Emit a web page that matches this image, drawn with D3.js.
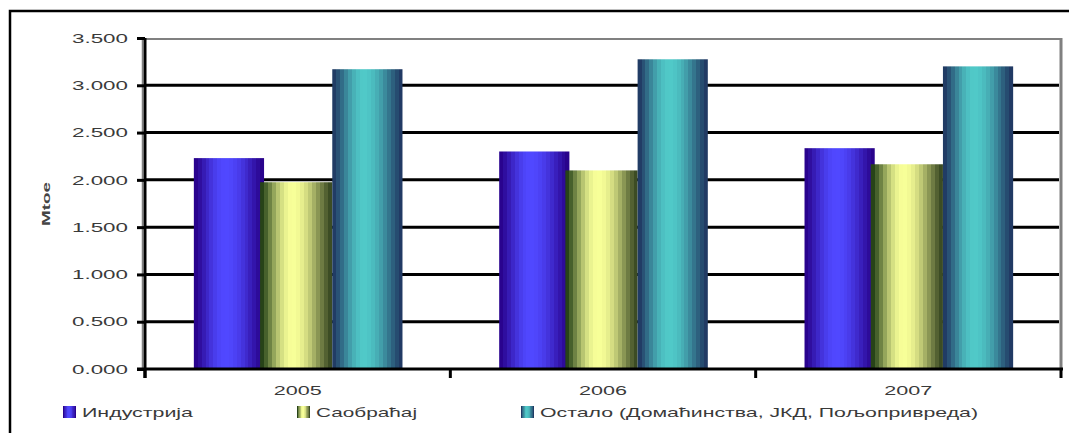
<!DOCTYPE html>
<html>
<head>
<meta charset="utf-8">
<script src="https://cdn.jsdelivr.net/npm/d3@7"></script>
<style>
  body { margin: 0; background: #fff; }
  text { font-family: Arial, 'Liberation Sans', sans-serif; }
</style>
</head>
<body>
<svg width="1069" height="433"></svg>
<script>
const years = ['2005', '2006', '2007'];
const seriesNames = ['Индустрија', 'Саобраћај', 'Остало (Домаћинства, ЈКД, Пољопривреда)'];
const industrija = [2.230, 2.300, 2.335];
const saobracaj = [1.975, 2.100, 2.165];
const ostalo = [3.170, 3.275, 3.200];
const yTicks = [0, 0.5, 1, 1.5, 2, 2.5, 3, 3.5];
const yAxisLabelText = 'Mtoe';

const svg = d3.select('svg');
const width = +svg.attr('width');
const height = +svg.attr('height');

const margin = { top: 38, right: 8, bottom: 64, left: 145 };
const innerWidth = 1061 - margin.left;
const innerHeight = 369 - margin.top;

const series = [industrija, saobracaj, ostalo];
const data = years.map((yr, i) => ({ year: yr, values: series.map((s, k) => ({ key: k, value: s[i] })) }));

// bar shading, dark edges and a bright band a bit left of centre
const shades = [
  { dark: '#270088', light: '#5048ff', dark2: '#270088' },
  { dark: '#1c3a12', light: '#f8ff98', dark2: '#354520' },
  { dark: '#1f3560', light: '#50c9c8', dark2: '#1f3560' }
];
const defs = svg.append('defs');
shades.forEach((s, k) => {
  const grad = defs.append('linearGradient').attr('id', 'g' + k)
    .attr('x1', 0).attr('x2', 1).attr('y1', 0).attr('y2', 0);
  const n = 18;
  for (let i = 0; i < n; i++) {
    const t = (i + 0.5) / n;
    const peak = 0.45;
    const p = t < peak ? Math.sin((t / peak) * Math.PI / 2) : Math.sin(((1 - t) / (1 - peak)) * Math.PI / 2);
    const col = d3.interpolateRgb(t < peak ? s.dark : s.dark2, s.light)(Math.pow(p, 1.3));
    grad.append('stop').attr('offset', i / n).attr('stop-color', col);
    grad.append('stop').attr('offset', (i + 1) / n).attr('stop-color', col);
  }
});

// outer frame
svg.append('rect')
  .attr('x', 10).attr('y', 11).attr('width', 1075).attr('height', 440)
  .attr('fill', 'none').attr('stroke', '#000').attr('stroke-width', 2.5);

const g = svg.append('g')
  .attr('transform', `translate(${margin.left},${margin.top})`);

const xScale = d3.scaleBand()
  .domain(years)
  .range([0, innerWidth])
  .paddingInner(0.32)
  .paddingOuter(0.16);

const x1 = d3.scaleBand()
  .domain([0, 1, 2])
  .range([0, xScale.bandwidth()]);

const yScale = d3.scaleLinear()
  .domain([0, 3.5])
  .range([innerHeight, 0]);

// plot area border (grey)
g.append('line').attr('x1', 0).attr('x2', innerWidth + 1).attr('y1', 1).attr('y2', 1)
  .attr('stroke', '#808080').attr('stroke-width', 2);
g.append('line').attr('x1', innerWidth).attr('x2', innerWidth).attr('y1', 0).attr('y2', innerHeight)
  .attr('stroke', '#808080').attr('stroke-width', 3);
g.append('line').attr('x1', -2.5).attr('x2', -2.5).attr('y1', 0).attr('y2', innerHeight)
  .attr('stroke', '#808080').attr('stroke-width', 1.5);

// gridlines
g.append('g').selectAll('line').data(yTicks.filter(d => d > 0 && d < 3.5))
  .enter().append('line')
    .attr('x1', 0).attr('x2', innerWidth - 2)
    .attr('y1', d => yScale(d)).attr('y2', d => yScale(d))
    .attr('stroke', '#000').attr('stroke-width', 3);

// bars
const groups = g.selectAll('.grp').data(data)
  .enter().append('g')
    .attr('class', 'grp')
    .attr('transform', d => `translate(${xScale(d.year)},0)`);
groups.selectAll('rect').data(d => d.values)
  .enter().append('rect')
    .attr('x', d => x1(d.key) - (d.key === 1 ? 3 : 0))
    .attr('y', d => yScale(d.value))
    .attr('width', d => x1.bandwidth() + (d.key === 1 ? 3 : 1))
    .attr('height', d => innerHeight - yScale(d.value))
    .attr('fill', d => `url(#g${d.key})`);

// y axis
const yAxis = d3.axisLeft(yScale)
  .tickValues(yTicks)
  .tickFormat(d3.format('.3f'))
  .tickSize(8)
  .tickPadding(9);
const yAxisG = g.append('g').call(yAxis);
yAxisG.select('.domain').attr('stroke-width', 3).attr('d', `M0,0V${innerHeight + 9}`);
yAxisG.selectAll('.tick line').attr('stroke-width', 3);
yAxisG.selectAll('.tick text')
  .attr('font-size', 13)
  .attr('fill', '#3a3a3a')
  .attr('textLength', 56)
  .attr('lengthAdjust', 'spacingAndGlyphs');

// x axis
const xAxis = d3.axisBottom(xScale).tickSize(0).tickPadding(17);
const xAxisG = g.append('g').call(xAxis)
  .attr('transform', `translate(0,${innerHeight})`);
xAxisG.select('.domain').attr('stroke-width', 3).attr('d', `M-8,0H${innerWidth + 2}`);
xAxisG.selectAll('.tick text')
  .attr('font-size', 13)
  .attr('fill', '#3a3a3a')
  .attr('textLength', 48)
  .attr('lengthAdjust', 'spacingAndGlyphs');
// category separator ticks
const step = xScale.step();
xAxisG.append('g').selectAll('line').data(d3.range(years.length + 1))
  .enter().append('line')
    .attr('x1', d => d * step).attr('x2', d => d * step)
    .attr('y1', 0).attr('y2', 9)
    .attr('stroke', '#000').attr('stroke-width', 3);

// y axis label
svg.append('text')
  .attr('transform', 'translate(50,204) rotate(-90)')
  .attr('text-anchor', 'middle')
  .attr('font-size', 10)
  .attr('font-weight', 'bold')
  .attr('fill', '#444')
  .attr('textLength', 44)
  .attr('lengthAdjust', 'spacingAndGlyphs')
  .text(yAxisLabelText);

// legend
const legendX = [63, 297, 521];
const legendLen = [111, 101, 438];
const legend = svg.append('g').selectAll('g').data(seriesNames)
  .enter().append('g')
    .attr('transform', (d, i) => `translate(${legendX[i]},406)`);
legend.append('rect')
  .attr('width', 13).attr('height', 12)
  .attr('fill', (d, i) => `url(#g${i})`);
legend.append('text')
  .attr('x', 19).attr('y', 11)
  .attr('font-size', 13)
  .attr('fill', '#3a3a3a')
  .attr('textLength', (d, i) => legendLen[i])
  .attr('lengthAdjust', 'spacingAndGlyphs')
  .text(d => d);
</script>
</body>
</html>
